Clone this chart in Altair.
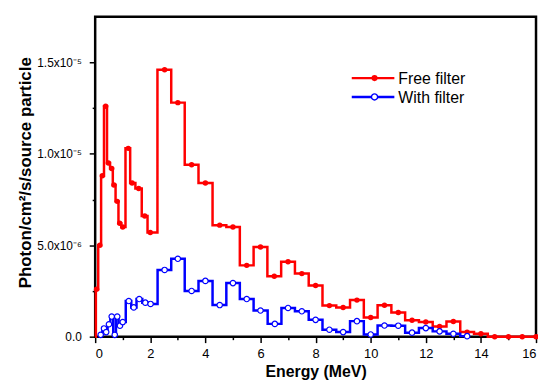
import altair as alt
import pandas as pd

# ---- data (flux in units of 1e-6 photon/cm2/s/source particle) ----
red_x = [0.0, 0.05, 0.17, 0.26, 0.38, 0.48, 0.60, 0.68, 0.80, 0.89, 1.00, 1.20, 1.34, 1.58,
         1.80, 2.00, 2.52, 3.00, 3.50, 4.00, 4.52, 5.00, 5.50, 6.00, 6.50, 7.00, 7.50, 8.00,
         8.50, 9.00, 9.50, 10.00, 10.50, 11.00, 11.50, 12.00, 12.50, 13.00, 13.50, 14.00,
         14.50, 15.00, 15.50, 16.00]
red_y = [0.0, 2.6, 5.0, 8.8, 12.6, 9.5, 9.2, 8.3, 7.4, 6.2, 6.0, 10.3, 8.4, 8.1,
         6.6, 5.7, 14.6, 12.8, 9.4, 8.4, 6.1, 6.0, 3.9, 4.9, 3.3, 4.1, 3.45, 2.8,
         1.7, 1.6, 2.0, 1.05, 1.72, 1.32, 0.9, 0.8, 0.56, 0.83, 0.25, 0.16,
         0.0, 0.0, 0.0, 0.0]

blue_x = [0.20, 0.32, 0.40, 0.50, 0.60, 0.71, 0.80, 0.90, 1.00, 1.22, 1.40, 1.60, 1.82,
          2.01, 2.52, 3.00, 3.50, 4.00, 4.52, 5.00, 5.50, 6.00, 6.52, 7.00, 7.50, 8.00,
          8.50, 9.00, 9.50, 10.00, 10.50, 11.00, 11.50, 12.00, 12.50, 13.00, 13.50]
blue_y = [0.1, 0.45, 0.25, 0.68, 1.1, 0.1, 1.1, 0.6, 0.8, 1.95, 1.6, 2.06, 1.86,
          1.79, 3.65, 4.26, 2.5, 3.05, 1.73, 2.93, 2.06, 1.43, 0.7, 1.57, 1.39, 0.92,
          0.38, 0.25, 0.85, 0.12, 0.61, 0.6, 0.22, 0.47, 0.29, 0.16, 0.03]

series_names = ["Free filter", "With filter"]
series_colors = ["#FF0000", "#0000FF"]

x_major = [0, 2, 4, 6, 8, 10, 12, 14, 16]
x_minor = [1, 3, 5, 7, 9, 11, 13, 15]
y_major = [0.0, 5e-6, 1e-5, 1.5e-5]
y_minor = [2.5e-6, 7.5e-6, 1.25e-5]
y_label_expr = ("datum.value < 1e-7 ? '0.0' : datum.value < 6e-6 ? '5.0x10\u207b\u2076' : "
                "datum.value < 1.1e-5 ? '1.0x10\u207b\u2075' : '1.5x10\u207b\u2075'")

red = pd.DataFrame({"energy": red_x, "flux": [v * 1e-6 for v in red_y]})
blue = pd.DataFrame({"energy": blue_x, "flux": [v * 1e-6 for v in blue_y]})

FONT = "Liberation Sans"
W, H = 445, 323

xscale = alt.Scale(domain=[0, 16], nice=False, zero=False)
yscale = alt.Scale(domain=[0, 1.75e-5], nice=False)

x_major_axis = alt.Axis(values=x_major, orient="bottom", format="d", tickSize=6, tickWidth=1.5,
                        tickColor="black", labelPadding=5, labelFontSize=13, labelFont=FONT,
                        labelColor="black", domain=False, grid=False,
                        title="Energy (MeV)", titleFont=FONT, titleFontSize=16,
                        titleFontWeight="bold", titleColor="black", titleY=27)
y_major_axis = alt.Axis(values=y_major, orient="left", labelExpr=y_label_expr, tickSize=6,
                        tickWidth=1.5, tickColor="black", labelPadding=8, labelFontSize=12,
                        labelFont=FONT, labelColor="black", domain=False, grid=False,
                        title="Photon/cm\u00b2/s/source particle", titleFont=FONT,
                        titleFontSize=17, titleFontWeight="bold", titleColor="black",
                        titleX=-70, titleY=157, titleBaseline="middle")
x_minor_axis = alt.Axis(values=x_minor, orient="bottom", labels=False, tickSize=3,
                        tickWidth=1.5, tickColor="black", domain=False, grid=False, title=None)
y_minor_axis = alt.Axis(values=y_minor, orient="left", labels=False, tickSize=3,
                        tickWidth=1.5, tickColor="black", domain=False, grid=False, title=None)

red_line = alt.Chart(red).mark_line(interpolate="step", color=series_colors[0],
                                    strokeWidth=2.5).encode(
    x=alt.X("energy:Q", scale=xscale, axis=x_major_axis),
    y=alt.Y("flux:Q", scale=yscale, axis=y_major_axis),
)
red_pts = alt.Chart(red).transform_filter("datum.energy > 0").mark_point(
    shape="circle", filled=True, color=series_colors[0], size=30, opacity=1).encode(
    x=alt.X("energy:Q", scale=xscale, axis=x_minor_axis),
    y=alt.Y("flux:Q", scale=yscale, axis=y_minor_axis),
)
blue_line = alt.Chart(blue).mark_line(interpolate="step", color=series_colors[1],
                                      strokeWidth=2.5).encode(
    x=alt.X("energy:Q", scale=xscale, axis=None),
    y=alt.Y("flux:Q", scale=yscale, axis=None),
)
blue_pts = alt.Chart(blue).mark_point(shape="circle", filled=True, fill="white",
                                      stroke=series_colors[1], strokeWidth=1.2, size=30,
                                      opacity=1).encode(
    x=alt.X("energy:Q", scale=xscale, axis=None),
    y=alt.Y("flux:Q", scale=yscale, axis=None),
)

# ---- legend (drawn in pixel space inside the plot) ----
legend_layers = []
for i, (name, col) in enumerate(zip(series_names, series_colors)):
    ly = 62 + 19 * i
    legend_df = pd.DataFrame({"label": [name]})
    legend_layers.append(alt.Chart(legend_df).mark_rule(color=col, strokeWidth=2.5).encode(
        x=alt.value(259), x2=alt.value(302), y=alt.value(ly)))
    if i == 0:
        pm = alt.Chart(legend_df).mark_point(shape="circle", filled=True, color=col,
                                             size=38, opacity=1)
    else:
        pm = alt.Chart(legend_df).mark_point(shape="circle", filled=True, fill="white",
                                             stroke=col, strokeWidth=1.4, size=38, opacity=1)
    legend_layers.append(pm.encode(x=alt.value(282), y=alt.value(ly)))
    legend_layers.append(alt.Chart(legend_df).mark_text(
        align="left", baseline="middle", font=FONT, fontSize=16, color="black").encode(
        x=alt.value(306), y=alt.value(ly + 1), text="label:N"))

chart = alt.layer(red_line, red_pts, blue_line, blue_pts, *legend_layers).resolve_axis(
    x="independent", y="independent"
).properties(
    width=W, height=H,
    background="white",
    autosize=alt.AutoSizeParams(type="none"),
    padding={"left": 88, "top": 7, "right": 2, "bottom": 47},
).configure_view(stroke="black", strokeWidth=2.5)

chart.save("out.html", embed_options={"renderer": "svg", "actions": False})
